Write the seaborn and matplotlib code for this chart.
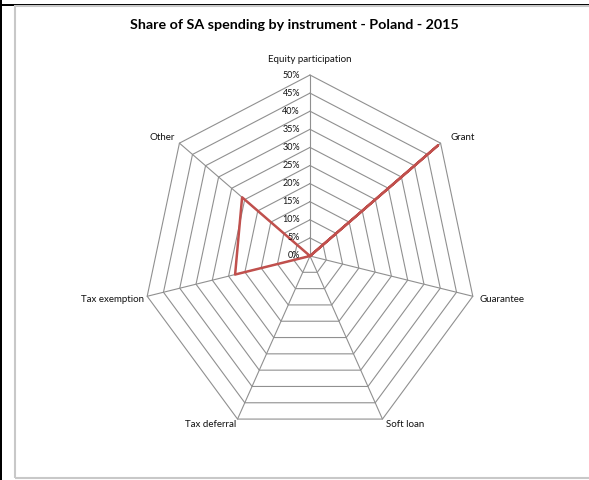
import numpy as np
import pandas as pd
import matplotlib
matplotlib.use('Agg')
from matplotlib import pyplot as plt
from matplotlib.patches import Rectangle
import seaborn as sns

categories = ['Equity participation', 'Grant', 'Guarantee', 'Soft loan',
              'Tax deferral', 'Tax exemption', 'Other']
shares = [0, 49, 0, 0, 0, 23, 26]
ticks = [0, 5, 10, 15, 20, 25, 30, 35, 40, 45, 50]
tick_labels = ['0%', '5%', '10%', '15%', '20%', '25%', '30%', '35%', '40%', '45%', '50%']
title = 'Share of SA spending by instrument - Poland - 2015'

# label offsets from the outer corner, in points
label_offsets = [(0, 11.5, 'center'), (7, 4.3, 'left'), (5, -2, 'left'), (2.2, -3.6, 'left'),
                 (-0.7, -3.6, 'right'), (-2.2, -2.2, 'right'), (-3.6, 4.3, 'right')]

sns.set_style('white')
plt.rcParams['font.family'] = ['Lato', 'DejaVu Sans']

W, H = 589, 480
fig = plt.figure(figsize=(W / 100, H / 100), dpi=100)

# outer frame
def px_rect(x0, y0, x1, y1, **kw):
    fig.patches.append(Rectangle((x0 / W, 1 - y1 / H), (x1 - x0) / W, (y1 - y0) / H,
                                 transform=fig.transFigure, figure=fig, **kw))

px_rect(0, 0, 2, H, color='black', lw=0)
px_rect(0, 4, W, 6, color='black', lw=0)
px_rect(15, 6, W + 5, 478, fill=False, edgecolor='#c8c8c8', lw=1.5)

cx, cy = 310, 256
sx, sy = 167 / 50, 181 / 50
ax = fig.add_axes([0, 0, 1, 1])
ax.set_xlim(-cx / sx, (W - cx) / sx)
ax.set_ylim(-(H - cy) / sy, cy / sy)
ax.axis('off')

n = len(categories)
ang = np.arange(n) * 2 * np.pi / n
closed = np.append(ang, ang[0])

grid_col = '#909090'
for t in ticks[1:]:
    ax.plot(t * np.sin(closed), t * np.cos(closed), color=grid_col, lw=0.8, zorder=1)
for a in ang:
    ax.plot([0, ticks[-1] * np.sin(a)], [0, ticks[-1] * np.cos(a)], color=grid_col, lw=0.8, zorder=1)

for t, lab in zip(ticks, tick_labels):
    ax.text(-3, t, lab, ha='right', va='center', fontsize=6.5, color='#111111', zorder=3)

vals = np.append(shares, shares[0])
df = pd.DataFrame({'x': vals * np.sin(closed), 'y': vals * np.cos(closed)})
sns.lineplot(data=df, x='x', y='y', sort=False, estimator=None, color='#C0504D',
             lw=1.8, ax=ax, zorder=2)
ax.axis('off')

for a, lab, (dx, dy, ha) in zip(ang, categories, label_offsets):
    ax.annotate(lab, (ticks[-1] * np.sin(a), ticks[-1] * np.cos(a)), xytext=(dx, dy),
                textcoords='offset points', ha=ha, va='center', fontsize=7, color='#111111')

fig.text(294.5 / W, 1 - 25 / H, title, ha='center', va='center', fontsize=10.3,
         fontweight='bold', color='black')

fig.savefig('out.png', dpi=100)
